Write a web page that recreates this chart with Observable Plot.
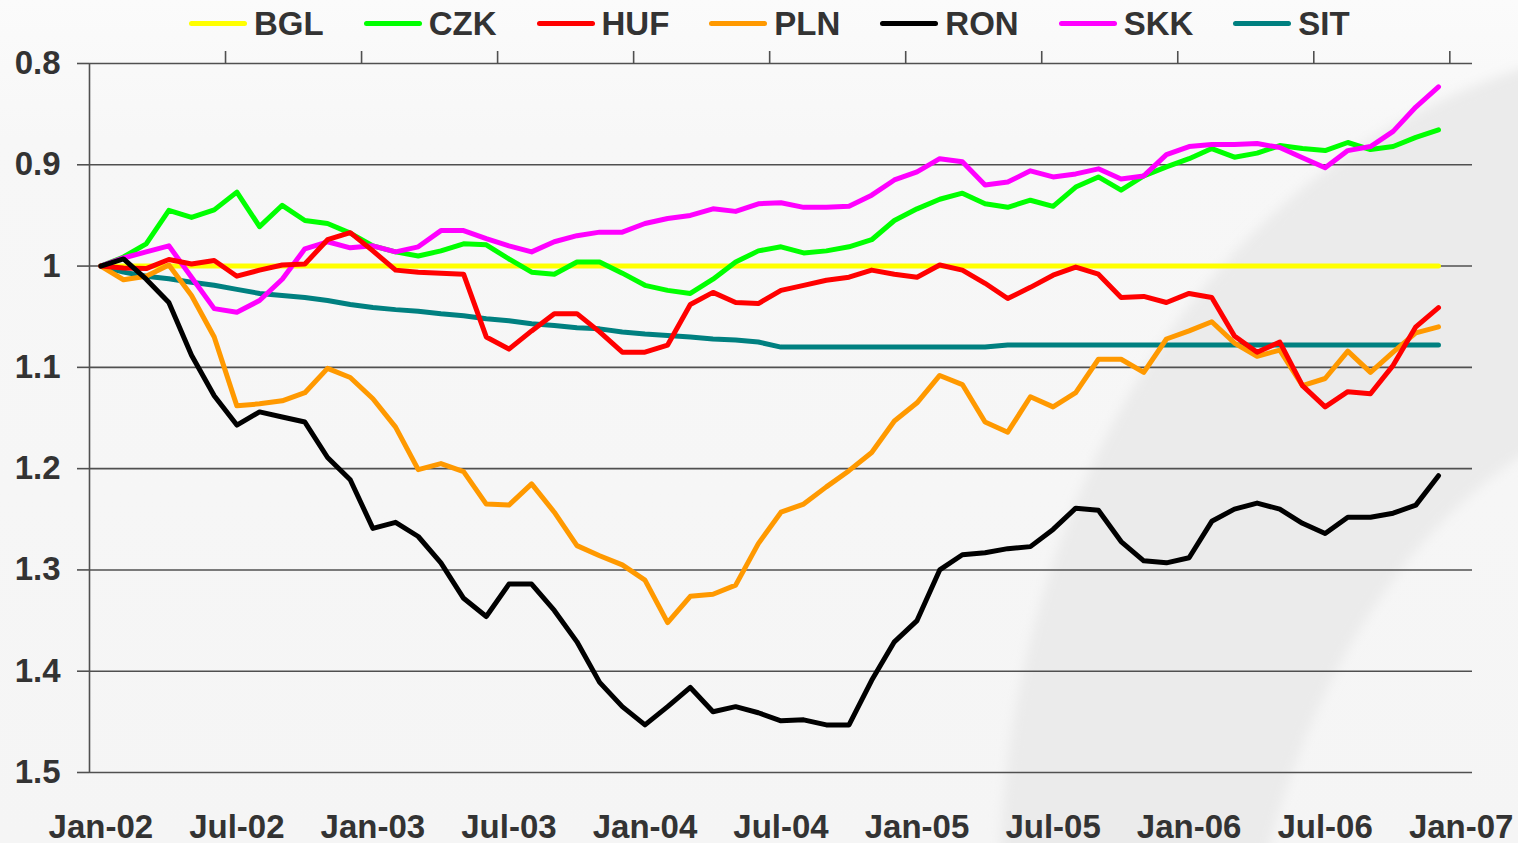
<!DOCTYPE html>
<html><head><meta charset="utf-8">
<script src="https://cdn.jsdelivr.net/npm/d3@7"></script>
<script src="https://cdn.jsdelivr.net/npm/@observablehq/plot@0.6"></script>
<style>
html,body{margin:0;padding:0;}
body{width:1518px;height:843px;overflow:hidden;position:relative;
  background:linear-gradient(#fbfbfb 0px,#f7f7f7 140px,#f5f5f5 100%);
  font-family:"Liberation Sans",Arial,sans-serif;}
#bg{position:absolute;left:0;top:0;z-index:0;}
#wrap{position:relative;z-index:1;}
#legend{height:48px;display:flex;align-items:center;padding-left:189px;box-sizing:border-box;}
.item{display:flex;align-items:center;margin-right:40px;font-weight:bold;font-size:33px;color:#333;}
.sw{width:58px;height:5px;border-radius:3px;margin-right:7px;margin-top:-2px;}
svg.plot{display:block;}
</style>
</head><body>
<svg id="bg" width="1518" height="843">
  <defs><filter id="blur"><feGaussianBlur stdDeviation="6"/></filter></defs>
  <path d="M 1000 860 C 1010 520 1190 170 1530 66 L 1530 450 C 1420 520 1320 650 1265 860 Z" fill="#ebebeb" filter="url(#blur)"/>
</svg>
<div id="wrap">
  <div id="legend"></div>
  <div id="chart"></div>
</div>
<script>
const seriesNames = ["BGL","CZK","HUF","PLN","RON","SKK","SIT"];
const seriesColors = ["#ffff00","#00ff00","#ff0000","#ff9900","#000000","#ff00ff","#008080"];

const months = ["2002-01","2002-02","2002-03","2002-04","2002-05","2002-06","2002-07","2002-08","2002-09","2002-10","2002-11","2002-12",
"2003-01","2003-02","2003-03","2003-04","2003-05","2003-06","2003-07","2003-08","2003-09","2003-10","2003-11","2003-12",
"2004-01","2004-02","2004-03","2004-04","2004-05","2004-06","2004-07","2004-08","2004-09","2004-10","2004-11","2004-12",
"2005-01","2005-02","2005-03","2005-04","2005-05","2005-06","2005-07","2005-08","2005-09","2005-10","2005-11","2005-12",
"2006-01","2006-02","2006-03","2006-04","2006-05","2006-06","2006-07","2006-08","2006-09","2006-10","2006-11","2006-12"];

const BGL = [1,1,1,1,1,1,1,1,1,1,1,1,1,1,1,1,1,1,1,1,1,1,1,1,1,1,1,1,1,1,
             1,1,1,1,1,1,1,1,1,1,1,1,1,1,1,1,1,1,1,1,1,1,1,1,1,1,1,1,1,1];
const CZK = [1.000,0.991,0.978,0.945,0.952,0.9445,0.927,0.961,0.940,0.955,
             0.958,0.9675,0.980,0.986,0.990,0.985,0.978,0.979,0.993,1.006,
             1.008,0.996,0.996,1.007,1.019,1.024,1.027,1.013,0.996,0.985,
             0.981,0.987,0.985,0.981,0.974,0.955,0.9435,0.934,0.928,0.9385,
             0.942,0.935,0.941,0.922,0.912,0.925,0.911,0.902,0.894,0.884,
             0.8925,0.8885,0.881,0.884,0.886,0.878,0.885,0.882,0.873,0.8655];
const HUF = [1.000,1.002,1.0025,0.9935,0.998,0.9945,1.010,1.004,0.999,0.998,
             0.974,0.967,0.985,1.004,1.006,1.007,1.008,1.070,1.082,1.064,
             1.047,1.047,1.065,1.085,1.085,1.078,1.038,1.026,1.036,1.037,
             1.024,1.019,1.014,1.011,1.004,1.008,1.011,0.999,1.004,1.017,
             1.032,1.021,1.009,1.001,1.008,1.031,1.030,1.036,1.027,1.031,
             1.069,1.085,1.075,1.118,1.139,1.124,1.126,1.098,1.060,1.041];
const PLN = [1.000,1.0135,1.010,0.999,1.029,1.070,1.138,1.136,1.133,1.125,
             1.101,1.110,1.131,1.159,1.201,1.195,1.203,1.235,1.236,1.215,
             1.243,1.276,1.286,1.295,1.310,1.352,1.326,1.324,1.315,1.274,
             1.243,1.235,1.218,1.202,1.184,1.153,1.135,1.108,1.117,1.154,
             1.164,1.129,1.139,1.125,1.092,1.092,1.105,1.072,1.064,1.055,
             1.076,1.089,1.083,1.118,1.111,1.084,1.105,1.085,1.066,1.060];
const RON = [1.000,0.993,1.013,1.036,1.088,1.128,1.157,1.144,1.149,1.154,
             1.189,1.211,1.259,1.253,1.267,1.293,1.328,1.346,1.314,1.314,
             1.340,1.371,1.411,1.435,1.453,1.435,1.416,1.440,1.435,1.441,
             1.449,1.448,1.453,1.453,1.409,1.371,1.350,1.300,1.285,1.283,
             1.279,1.277,1.260,1.239,1.241,1.272,1.291,1.293,1.288,1.252,
             1.240,1.234,1.240,1.254,1.264,1.248,1.248,1.244,1.236,1.207];
const SKK = [1.000,0.992,0.986,0.980,1.011,1.042,1.0455,1.034,1.013,0.983,
             0.976,0.982,0.980,0.986,0.981,0.965,0.965,0.973,0.980,0.986,
             0.976,0.970,0.9665,0.9665,0.958,0.953,0.950,0.9435,0.946,0.9385,
             0.9375,0.942,0.942,0.941,0.930,0.915,0.907,0.894,0.897,0.920,
             0.917,0.906,0.912,0.909,0.904,0.914,0.911,0.890,0.882,0.880,
             0.880,0.879,0.883,0.893,0.903,0.886,0.882,0.867,0.843,0.823];
const SIT = [1.000,1.006,1.010,1.0126,1.016,1.019,1.023,1.027,1.029,1.031,
             1.034,1.038,1.041,1.043,1.0445,1.047,1.049,1.052,1.054,1.057,
             1.0587,1.061,1.062,1.065,1.067,1.0685,1.070,1.072,1.073,1.075,
             1.080,1.080,1.080,1.080,1.080,1.080,1.080,1.080,1.080,1.080,
             1.078,1.078,1.078,1.078,1.078,1.078,1.078,1.078,1.078,1.078,
             1.078,1.078,1.078,1.078,1.078,1.078,1.078,1.078,1.078,1.078];

const xTicks = [0,6,12,18,24,30,36,42,48,54,60];
const xTickLabels = ["Jan-02","Jul-02","Jan-03","Jul-03","Jan-04","Jul-04","Jan-05","Jul-05","Jan-06","Jul-06","Jan-07"];
const yTicks = [0.8,0.9,1,1.1,1.2,1.3,1.4,1.5];
const yTickLabels = ["0.8","0.9","1","1.1","1.2","1.3","1.4","1.5"];

// legend
const legend = document.getElementById("legend");
seriesNames.forEach((n, k) => {
  const it = document.createElement("div"); it.className = "item";
  const sw = document.createElement("div"); sw.className = "sw"; sw.style.background = seriesColors[k];
  const tx = document.createElement("span"); tx.textContent = n;
  it.appendChild(sw); it.appendChild(tx); legend.appendChild(it);
});

const valuesBy = {BGL, CZK, HUF, PLN, RON, SKK, SIT};
const drawOrder = ["BGL","SIT","CZK","SKK","PLN","HUF","RON"];
const rows = drawOrder.flatMap(name => valuesBy[name].map((v, i) => ({name, i, month: months[i], v})));
const topTicks = d3.range(5.5, 60, 6);

const chart = Plot.plot({
  width: 1518, height: 795,
  marginLeft: 89, marginRight: 46, marginTop: 15, marginBottom: 71,
  style: {background: "transparent", fontFamily: "'Liberation Sans', Arial, sans-serif", fontWeight: "bold", fontSize: "33px", color: "#333", overflow: "visible"},
  x: {type: "linear", domain: [-0.5, 60.5], label: null},
  y: {domain: [0.8, 1.5], reverse: true, label: null},
  color: {domain: seriesNames, range: seriesColors},
  marks: [
    Plot.ruleY(yTicks, {stroke: "#505050", strokeWidth: 1.6}),
    Plot.ruleX([-0.5], {stroke: "#505050", strokeWidth: 1.6}),
    Plot.axisY(yTicks, {anchor: "left", tickSize: 12, tickPadding: 17, stroke: "#505050", strokeWidth: 1.6, fill: "#333",
      tickFormat: d => yTickLabels[yTicks.indexOf(d)], label: null}),
    Plot.axisX(topTicks, {anchor: "top", tickSize: 13, stroke: "#505050", strokeWidth: 1.6, tickFormat: () => "", label: null}),
    Plot.axisX(xTicks, {anchor: "bottom", tickSize: 0, tickPadding: 42, fill: "#333",
      tickFormat: d => xTickLabels[xTicks.indexOf(d)], label: null}),
    Plot.line(rows, {x: "i", y: "v", z: "name", stroke: "name", strokeWidth: 5, strokeLinejoin: "round", strokeLinecap: "round"})
  ]
});
document.getElementById("chart").appendChild(chart);
</script>
</body></html>
